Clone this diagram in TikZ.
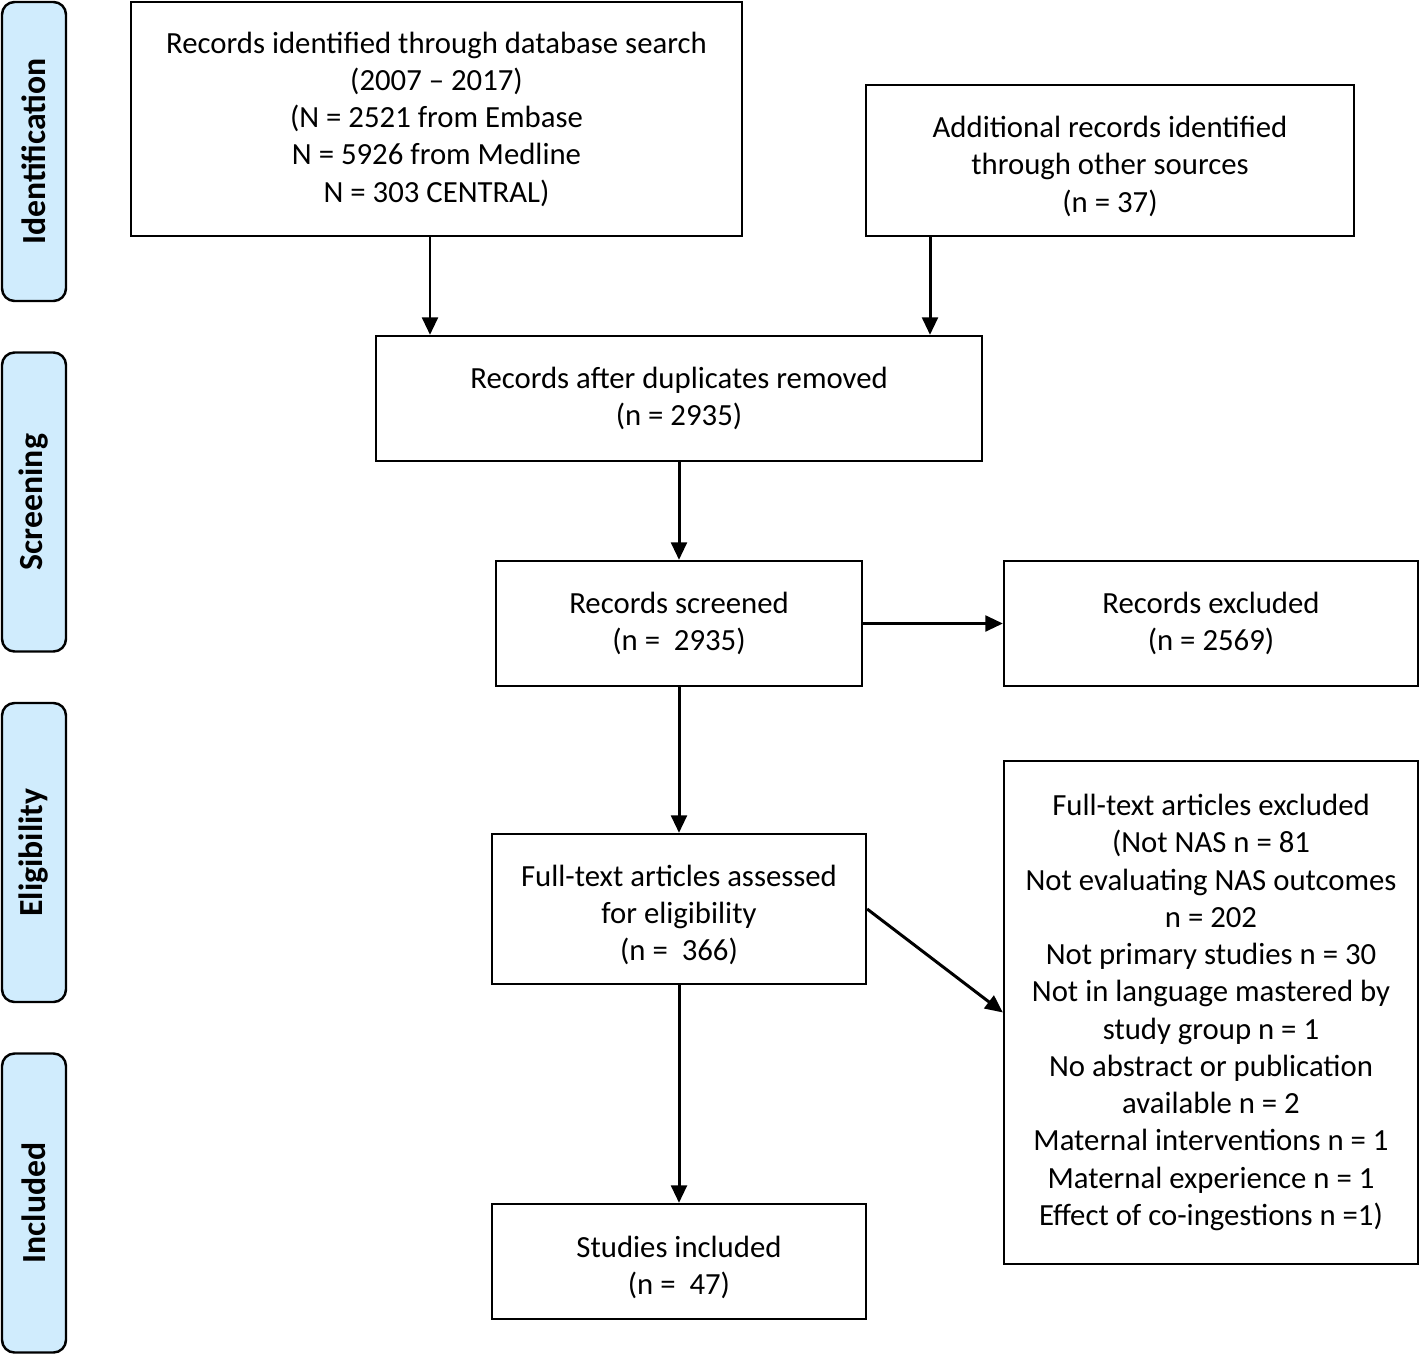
\documentclass[tikz,border=0pt]{standalone}
\usepackage{fontspec}
\setmainfont{Carlito}
\usetikzlibrary{arrows.meta}
\definecolor{phasefill}{RGB}{208,236,253}
\newcommand{\pushdown}{\rule{0pt}{0.66cm}}
\tikzset{
    box/.style={draw, line width=1.3pt, align=center, inner sep=0pt,
        font=\fontsize{17.5}{21.2}\selectfont},
    phase/.style={draw, line width=1.4pt, fill=phasefill, rounded corners=2.5mm,
        minimum width=1.28cm, minimum height=5.98cm, inner sep=0pt},
    phasetext/.style={rotate=90, font=\fontsize{19.2}{23}\selectfont\bfseries},
    flow/.style={-{Triangle[length=10pt,width=9pt]}, line width=1.7pt}
}
\begin{document}
\begin{tikzpicture}
        \useasboundingbox (0,0) rectangle (28.4,-27.08);
        % phase labels
        \node[phase] (ident) at (0.68,-3.03) {};
        \node[phasetext] (identtxt) at (ident.center) {Identification};
        \node[phase] (screen) at (0.68,-10.04) {};
        \node[phasetext] (screentxt) at (screen.center) {Screening};
        \node[phase] (elig) at (0.68,-17.05) {};
        \node[phasetext] (eligtxt) at (elig.center) {Eligibility};
        \node[phase] (incl) at (0.68,-24.06) {};
        \node[phasetext] (incltxt) at (incl.center) {Included};
        % boxes
        \node[box, minimum width=12.22cm, minimum height=4.68cm] (dbsearch) at (8.73,-2.38)
            {Records identified through database search\\(2007 -- 2017)\\(N = 2521 from Embase\\N = 5926 from Medline\\N = 303 CENTRAL)};
        \node[box, minimum width=9.76cm, minimum height=3.02cm] (other) at (22.2,-3.21)
            {\pushdown Additional records identified\\through other sources\\(n = 37)};
        \node[box, minimum width=12.12cm, minimum height=2.5cm] (dedup) at (13.58,-7.97)
            {Records after duplicates removed\\(n = 2935)};
        \node[box, minimum width=7.32cm, minimum height=2.5cm] (screened) at (13.58,-12.47)
            {Records screened\\(n = \ 2935)};
        \node[box, minimum width=8.28cm, minimum height=2.5cm] (recexcl) at (24.22,-12.47)
            {Records excluded\\(n = 2569)};
        \node[box, minimum width=7.48cm, minimum height=3.0cm] (fulltext) at (13.58,-18.18)
            {\pushdown Full-text articles assessed\\for eligibility\\(n = \ 366)};
        \node[box, minimum width=8.28cm, minimum height=10.06cm] (ftexcl) at (24.22,-20.25)
            {Full-text articles excluded\\(Not NAS n = 81\\Not evaluating NAS outcomes\\n = 202\\Not primary studies n = 30\\Not in language mastered by\\study group n = 1\\No abstract or publication\\available n = 2\\Maternal interventions n = 1\\Maternal experience n = 1\\Effect of co-ingestions n =1)};
        \node[box, minimum width=7.48cm, minimum height=2.3cm] (included) at (13.58,-25.23)
            {\pushdown Studies included\\(n = \ 47)};
        % arrows
        \coordinate (leftdrop) at (8.6,0);
        \coordinate (rightdrop) at (18.6,0);
        \draw[flow] (dbsearch.south -| leftdrop) -- (dedup.north -| leftdrop);
        \draw[flow] (other.south -| rightdrop) -- (dedup.north -| rightdrop);
        \draw[flow] (dedup) -- (screened);
        \draw[flow] (screened) -- (recexcl);
        \draw[flow] (screened) -- (fulltext);
        \draw[flow] (fulltext.east) -- (ftexcl.west);
        \draw[flow] (fulltext) -- (included);
\end{tikzpicture}
\end{document}
